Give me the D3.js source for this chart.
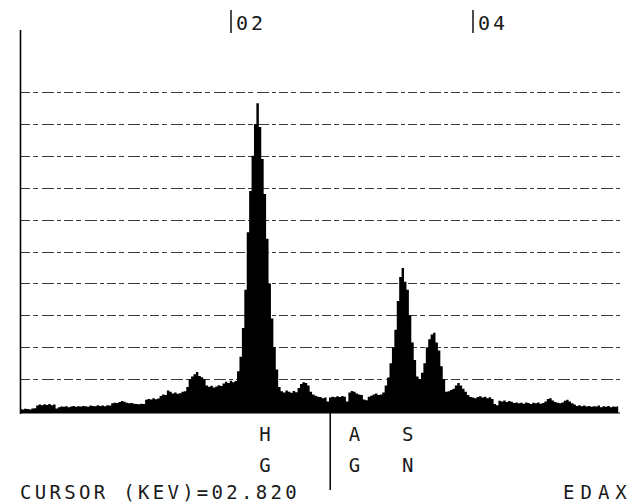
<!DOCTYPE html>
<html>
<head>
<meta charset="utf-8">
<script src="https://cdn.jsdelivr.net/npm/d3@7"></script>
<style>
  body { margin: 0; background: #fff; }
  text { font-family: "DejaVu Sans Mono", monospace; fill: #1a1a1a; }
</style>
</head>
<body>
<div id="chart"></div>
<script>
// spectrum: counts per channel, channel 0 at 0.26 keV, 0.02 keV per channel
var startKev = 0.26, stepKev = 0.02;
var counts = [
  6,5,7,6,5,8,9,
  17,20,18,21,19,22,18,20,
  8,
  12,14,13,15,12,14,16,13,15,14,16,15,13,17,16,15,18,16,17,15,18,17,
  24,26,25,28,31,29,26,24,25,23,
  22,21,23,22,
  35,38,36,40,37,39,
  47,52,50,64,60,
  55,58,54,56,60,62,
  75,100,108,115,122,110,106,100,80,
  76,79,74,77,81,78,
  86,92,88,95,90,94,
  125,170,260,380,560,690,800,900,965,890,790,680,540,400,290,200,130,75,
  62,58,64,60,57,63,59,
  72,85,90,88,80,
  60,52,48,45,44,40,42,
  30,
  42,45,43,46,44,47,45,
  30,
  58,63,60,55,52,50,
  36,34,
  45,48,52,55,50,52,58,
  80,105,150,200,255,345,420,448,405,380,300,215,160,108,100,
  120,150,200,225,240,245,215,190,140,100,60,62,66,70,80,88,80,70,60,50,44,
  42,40,44,46,42,45,40,43,38,22,18,32,30,33,28,31,29,25,27,24,26,23,27,25,22,26,24,27,23,25,
  30,38,40,33,28,26,24,27,32,35,30,24,20,16,18,15,17,14,16,13,15,14,17,12,15,13,16,12,14,13,15
];

// top energy ticks
var tickKev = [2, 4];
var tickLabels = ["02", "04"];

// element markers under the axis
var markKev = [2.28, 3.02, 3.46];
var markTop = ["H", "A", "S"];
var markBottom = ["G", "G", "N"];

var cursorKev = 2.82;
var cursorText = "CURSOR (KEV)=02.820";

var width = 639, height = 504;

var svg = d3.select("#chart")
  .append("svg")
    .attr("width", width)
    .attr("height", height);

var x = d3.scaleLinear().domain([2, 4]).range([231, 473]);
var y = d3.scaleLinear().domain([0, 1000]).range([411, 92]);

// dashed horizontal grid
svg.selectAll("line.grid")
  .data(y.ticks(10).filter(function(d){ return d > 0; }))
  .enter()
  .append("line")
    .attr("class", "grid")
    .attr("x1", 21)
    .attr("x2", 622)
    .attr("y1", function(d){ return Math.round(y(d)) + 0.5; })
    .attr("y2", function(d){ return Math.round(y(d)) + 0.5; })
    .style("stroke", "#3a3a3a")
    .style("stroke-width", 1.1)
    .style("stroke-dasharray", "9,3,5,4,12,3,4,3");

// spectrum as filled step area
var pts = counts.map(function(c, i){ return {e: startKev + stepKev * i, c: c}; });
var area = d3.area()
  .curve(d3.curveStep)
  .x(function(d){ return x(d.e); })
  .y0(y(0) + 2)
  .y1(function(d){ return y(d.c); });

svg.append("path")
  .datum(pts)
  .attr("d", area)
  .style("fill", "#000");

// left axis and baseline
svg.append("line")
  .attr("x1", 20.5).attr("x2", 20.5)
  .attr("y1", 30).attr("y2", 414)
  .style("stroke", "#000").style("stroke-width", 1.6);

svg.append("line")
  .attr("x1", 20).attr("x2", 620)
  .attr("y1", 413).attr("y2", 413)
  .style("stroke", "#000").style("stroke-width", 1.2);

// top ticks
var tg = svg.selectAll("g.tick")
  .data(tickKev)
  .enter()
  .append("g")
    .attr("transform", function(d){ return "translate(" + x(d) + ",0)"; });
tg.append("line")
  .attr("y1", 10).attr("y2", 33)
  .style("stroke", "#000").style("stroke-width", 1.4);
tg.append("text")
  .attr("x", 5).attr("y", 30)
  .attr("font-size", 20)
  .attr("letter-spacing", 3)
  .text(function(d, i){ return tickLabels[i]; });

// element labels
svg.selectAll("text.mt")
  .data(markKev)
  .enter()
  .append("text")
    .attr("x", function(d){ return x(d); })
    .attr("y", 441)
    .attr("text-anchor", "middle")
    .attr("font-size", 19)
    .text(function(d, i){ return markTop[i]; });

svg.selectAll("text.mb")
  .data(markKev)
  .enter()
  .append("text")
    .attr("x", function(d){ return x(d); })
    .attr("y", 472)
    .attr("text-anchor", "middle")
    .attr("font-size", 19)
    .text(function(d, i){ return markBottom[i]; });

// cursor line
svg.append("line")
  .attr("x1", x(cursorKev)).attr("x2", x(cursorKev))
  .attr("y1", 408).attr("y2", 490)
  .style("stroke", "#000").style("stroke-width", 1.5);

// bottom status line
svg.append("text")
  .attr("x", 20).attr("y", 499)
  .attr("font-size", 19)
  .attr("letter-spacing", 3.3)
  .text(cursorText);

svg.append("text")
  .attr("x", 563).attr("y", 499)
  .attr("font-size", 19)
  .attr("letter-spacing", 6)
  .text("EDAX");
</script>
</body>
</html>
